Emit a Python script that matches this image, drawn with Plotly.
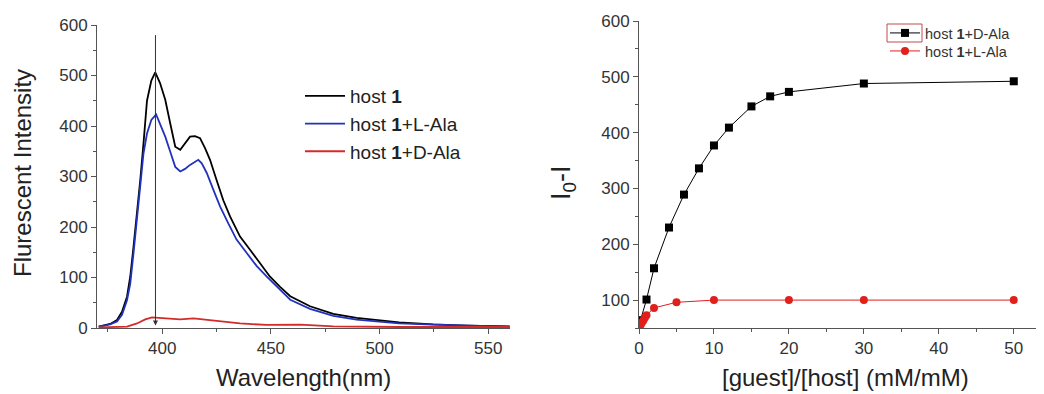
import plotly.graph_objects as go

# ---- Left panel: emission spectra ----
wl_host = [370.8, 376.1, 379.2, 381.5, 383.8, 385.3, 386.8, 388.4, 389.9, 391.4, 393.0, 395.0,
           396.8, 399.0, 401.4, 403.7, 406.0, 408.3, 410.5, 412.8, 415.1, 417.4, 419.7, 422.0,
           425.0, 428.1, 431.2, 435.8, 440.4, 445.0, 449.5, 454.1, 458.9, 468.0, 478.7, 489.4,
           500.0, 509.0, 524.6, 540.0, 559.8]
int_host = [2.6, 8, 16, 32, 62, 102, 161, 227, 293, 366, 450, 490,
            506, 485, 452, 405, 359, 353, 366, 379, 380, 376, 356, 333,
            293, 253, 221, 181, 155, 128, 102, 82, 63, 43, 28, 20,
            14.5, 11, 7, 4.6, 3]

wl_L = [370.8, 376.0, 379.2, 381.5, 383.8, 385.3, 386.8, 388.4, 389.9, 391.4, 393.0, 395.0,
        397.2, 399.0, 401.4, 403.7, 406.0, 408.3, 410.5, 412.8, 415.1, 416.6, 418.2, 420.5,
        423.5, 426.6, 430.4, 434.2, 438.8, 443.4, 448.0, 458.9, 468.0, 478.7, 489.4,
        500.0, 509.0, 524.6, 540.0, 560.0]
int_L = [2.6, 7, 13, 26, 55, 88, 148, 214, 280, 346, 385, 412,
         423, 405, 379, 349, 319, 310, 315, 323, 330, 333, 326, 307,
         274, 241, 207, 175, 149, 123, 102, 56, 38, 24, 16.5,
         12, 9, 6.6, 4.6, 2.6]

wl_D = [370.8, 377.6, 383.8, 388.4, 392.2, 395.3, 399.0, 403.7, 408.3, 414.4, 419.0,
        426.6, 435.8, 448.0, 463.5, 478.7, 509.0, 560.0]
int_D = [1.3, 1.3, 2.6, 9, 17, 21, 20, 18, 17, 19, 17,
         13, 9, 6, 6.6, 3.3, 2, 2]

# ---- Right panel: titration ----
ratio_D = [0.2, 1, 2, 4, 6, 8, 10, 12, 15, 17.5, 20, 30, 50]
dI_D = [64, 101, 157, 230, 289, 336, 377, 409, 447, 465, 473, 488, 492]
ratio_L = [0.2, 0.4, 0.6, 0.8, 1, 2, 5, 10, 20, 30, 50]
dI_L = [55, 60, 64, 69, 73, 86, 96, 100, 100, 100, 100]

# page has an 8px body margin: figure is placed at (8, 8)
OFF = 8
W, H = 1044 - OFF, 394 - OFF


def px(x):
    return (x - OFF) / W


def py(y):
    return 1 - (y - OFF) / H


FONT = "Liberation Sans, Arial, sans-serif"
TXT = "#222222"
AX = "#555555"

fig = go.Figure()
fig.add_trace(go.Scatter(x=wl_host, y=int_host, mode="lines", name="host <b>1</b>",
                         line=dict(color="#000000", width=1.8), legend="legend"))
fig.add_trace(go.Scatter(x=wl_L, y=int_L, mode="lines", name="host <b>1</b>+L-Ala",
                         line=dict(color="#2233bb", width=1.8), legend="legend"))
fig.add_trace(go.Scatter(x=wl_D, y=int_D, mode="lines", name="host <b>1</b>+D-Ala",
                         line=dict(color="#d42a2a", width=1.8), legend="legend"))

fig.add_trace(go.Scatter(x=ratio_D, y=dI_D, mode="lines+markers", name="host <b>1</b>+D-Ala",
                         line=dict(color="#000000", width=1),
                         marker=dict(symbol="square", size=8, color="#000000"),
                         xaxis="x2", yaxis="y2", legend="legend2"))
fig.add_trace(go.Scatter(x=ratio_L, y=dI_L, mode="lines+markers", name="host <b>1</b>+L-Ala",
                         line=dict(color="#e0201b", width=1),
                         marker=dict(symbol="circle", size=8, color="#e0201b"),
                         xaxis="x2", yaxis="y2", legend="legend3"))


def axstyle(**kw):
    d = dict(showline=True, linecolor=AX, linewidth=1, ticks="outside", ticklen=5,
             tickcolor=AX, showgrid=False, zeroline=False, automargin=False,
             tickfont=dict(family=FONT, size=17, color="#333333"))
    d.update(kw)
    return d


small_leg = dict(xanchor="left", yanchor="middle", bgcolor="rgba(0,0,0,0)",
                 font=dict(family=FONT, size=14.5, color="#333333"),
                 tracegroupgap=0, itemwidth=30)

fig.update_layout(
    width=W, height=H,
    margin=dict(l=0, r=0, t=0, b=0),
    paper_bgcolor="white", plot_bgcolor="white",
    font=dict(family=FONT, color=TXT),
    xaxis=axstyle(domain=[px(97), px(510)], range=[370, 560], tickvals=[400, 450, 500, 550],
                  minor=dict(dtick=25, tick0=0, ticks="outside", ticklen=3, tickcolor=AX),
                  anchor="y"),
    yaxis=axstyle(domain=[py(328), py(25)], range=[0, 600], dtick=100,
                  minor=dict(dtick=50, ticks="outside", ticklen=3, tickcolor=AX),
                  anchor="x"),
    xaxis2=axstyle(domain=[px(639), px(1043)], range=[0, 53.9], dtick=10,
                   minor=dict(dtick=5, ticks="outside", ticklen=3, tickcolor=AX),
                   anchor="y2"),
    yaxis2=axstyle(domain=[py(328), py(21)], range=[50, 600], tickvals=[100, 200, 300, 400, 500, 600],
                   minor=dict(dtick=50, tick0=0, ticks="outside", ticklen=3, tickcolor=AX),
                   anchor="x2"),
    legend=dict(x=px(300), y=py(77), xanchor="left", yanchor="top",
                bgcolor="rgba(0,0,0,0)", font=dict(family=FONT, size=19, color=TXT),
                tracegroupgap=0, itemwidth=40),
    legend2=dict(x=px(885), y=py(33), **small_leg),
    legend3=dict(x=px(885), y=py(51), **small_leg),
    showlegend=True,
)

fig.add_annotation(x=396.9, y=5, ax=396.9, ay=583, xref="x", yref="y", axref="x", ayref="y",
                   showarrow=True, arrowhead=2, arrowsize=1, arrowwidth=1, arrowcolor="#333333",
                   text="")

fig.add_shape(type="rect", xref="paper", yref="paper",
              x0=px(887), x1=px(922), y0=py(42), y1=py(24),
              line=dict(color="#c04a4a", width=1))

TITLE = dict(xref="paper", yref="paper", showarrow=False, xanchor="center", yanchor="middle")
fig.add_annotation(text="Flurescent Intensity", x=px(22), y=py(173), textangle=-90,
                   font=dict(family=FONT, size=24, color=TXT), **TITLE)
fig.add_annotation(text="Wavelength(nm)", x=px(303), y=py(377),
                   font=dict(family=FONT, size=24, color=TXT), **TITLE)
fig.add_annotation(text="I<sub>0</sub>-I", x=px(563), y=py(183), textangle=-90,
                   font=dict(family=FONT, size=27, color=TXT), **TITLE)
fig.add_annotation(text="[guest]/[host] (mM/mM)", x=px(845), y=py(377),
                   font=dict(family=FONT, size=24, color=TXT), **TITLE)

fig.write_html("out.html")
